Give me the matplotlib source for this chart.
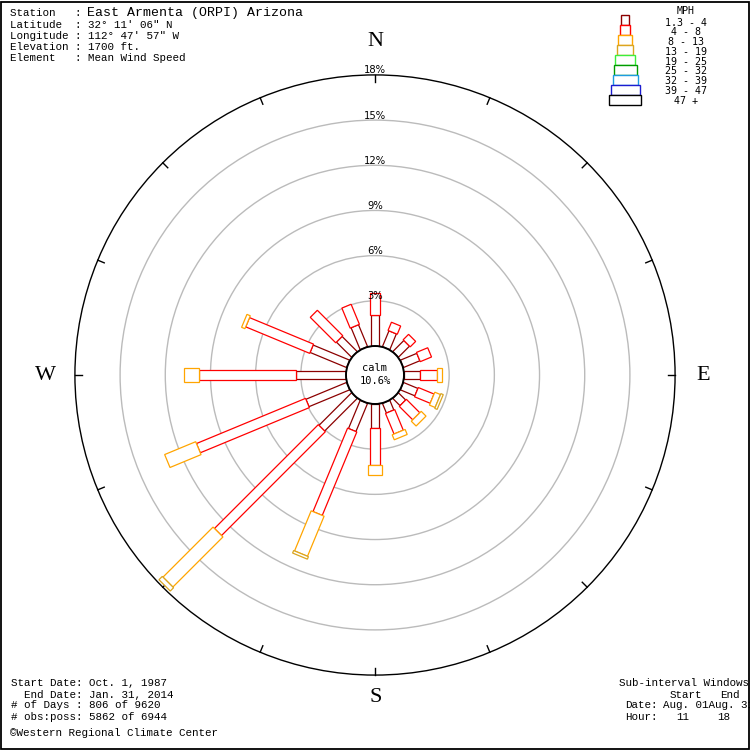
import matplotlib
matplotlib.use("Agg")
import matplotlib.pyplot as plt
from matplotlib.patches import Rectangle, Circle
import numpy as np

# wind directions, compass degrees clockwise from north
directions = ['N', 'NNE', 'NE', 'ENE', 'E', 'ESE', 'SE', 'SSE',
              'S', 'SSW', 'SW', 'WSW', 'W', 'WNW', 'NW', 'NNW']
dir_angles = np.arange(16) * 22.5

# frequency (%) per speed class, one value per direction
freq_1_4 = [2.03, 1.14, 1.05, 1.19, 1.05, 1.05, 0.69, 0.70,
            1.58, 2.03, 3.07, 2.93, 3.31, 2.63, 1.43, 1.58]
freq_4_8 = [1.46, 0.59, 0.51, 0.81, 1.11, 1.13, 1.26, 1.48,
            2.50, 6.00, 9.75, 7.84, 6.46, 4.60, 2.39, 1.44]
freq_8_13 = [0, 0, 0, 0, 0.38, 0.41, 0.45, 0.36,
             0.62, 2.88, 4.70, 2.23, 1.00, 0.24, 0, 0]
freq_13_19 = [0, 0, 0, 0, 0, 0.17, 0, 0,
              0, 0.18, 0.31, 0, 0, 0, 0, 0]
freqs = [freq_1_4, freq_4_8, freq_8_13, freq_13_19]

calm_pct = 10.6
rings = [3, 6, 9, 12, 15, 18]

speed_lo = ['1.3', '4', '8', '13', '19', '25', '32', '39', '47']
speed_hi = ['4', '8', '13', '19', '25', '32', '39', '47', '+']
speed_colors = ['#8b0000', '#ff0000', '#ffa500', '#daa520', '#3cee3c',
                '#009a00', '#1e9be0', '#1c1cd0', '#000000']
bar_w_px = [8, 10, 14, 16, 20, 23, 25, 29, 32]

PX = 15.06        # pixels per percent
R0 = 29 / PX      # calm circle radius in % units

fig = plt.figure(figsize=(7.5, 7.5), dpi=100)
ax = fig.add_axes([0, 0, 1, 1])
ax.set_xlim(-375 / PX, 375 / PX)
ax.set_ylim(-375 / PX, 375 / PX)
ax.set_aspect('equal')
ax.axis('off')


def dx(x):
    return (x - 375) / PX


def dy(y):
    return (375 - y) / PX


# frame
fig.patches.append(Rectangle((0.001, 0.001), 0.997, 0.997, transform=fig.transFigure,
                             fill=False, ec='black', lw=1.3))

# rings
for r in rings:
    col = 'black' if r == rings[-1] else '#bbbbbb'
    ax.add_patch(Circle((0, 0), R0 + r, fill=False, ec=col, lw=1.0, zorder=1))
    ax.text(0, R0 + r + 1.5 / PX, f'{r}%', ha='center', va='baseline',
            fontsize=7.2, family='DejaVu Sans', zorder=6)

# ticks on the outer circle
rout = R0 + rings[-1]
for a in dir_angles:
    s, c = np.sin(np.radians(a)), np.cos(np.radians(a))
    ax.plot([(rout - 7 / PX) * s, rout * s], [(rout - 7 / PX) * c, rout * c],
            color='black', lw=1.0, zorder=2)

# petals
for j, a in enumerate(dir_angles):
    start = R0
    for i, f in enumerate(freqs):
        if freqs[i][j] <= 0:
            continue
        w = bar_w_px[i] / PX
        ax.add_patch(Rectangle((start, -w / 2), freqs[i][j], w, angle=90 - a,
                               rotation_point=(0, 0), fc='white',
                               ec=speed_colors[i], lw=0.9, zorder=3 + i * 0.01))
        start += freqs[i][j]

# calm circle
ax.add_patch(Circle((0, 0), R0, fc='white', ec='black', lw=1.4, zorder=5))
ax.text(0, 7 / PX, 'calm', ha='center', va='center', fontsize=7.5,
        family='DejaVu Sans Mono', zorder=6)
ax.text(0, -6 / PX, f'{calm_pct}%', ha='center', va='center', fontsize=7.5,
        family='DejaVu Sans Mono', zorder=6)

# compass letters
for lab, x, y in [('N', 375, 42), ('W', 45, 375), ('E', 703, 375), ('S', 376, 698)]:
    ax.text(dx(x), dy(y), lab, ha='center', va='center', fontsize=16,
            family='Liberation Serif')

# legend
ax.text(dx(686), dy(11.5), 'MPH', ha='center', va='center', fontsize=7.2,
        family='DejaVu Sans Mono')
for i in range(len(speed_lo)):
    w = bar_w_px[i]
    ax.add_patch(Rectangle((dx(625 - w / 2), dy(25 + 10 * i)), w / PX, 10 / PX,
                           fc='white', ec=speed_colors[i], lw=1.0))
    if speed_hi[i] == '+':
        lab = f'{speed_lo[i]} +'
    else:
        lab = f'{speed_lo[i]} - {speed_hi[i]}'
    ax.text(dx(686), dy(22.5 + 9.8 * i), lab, ha='center', va='center',
            fontsize=7.2, family='DejaVu Sans Mono')


def ftxt(x, y, s, size=7.8, **kw):
    fig.text(x / 750, 1 - y / 750, s, va='center', family='Liberation Mono',
             fontsize=size, **kw)


# station info
ftxt(10, 13.5, 'Station   :')
ftxt(87, 13, 'East Armenta (ORPI) Arizona', size=9.5)
ftxt(10, 25, "Latitude  : 32° 11' 06\" N")
ftxt(10, 36, "Longitude : 112° 47' 57\" W")
ftxt(10, 47, 'Elevation : 1700 ft.')
ftxt(10, 58, 'Element   : Mean Wind Speed')

ftxt(11, 683.5, 'Start Date: Oct. 1, 1987')
ftxt(11, 694.5, '  End Date: Jan. 31, 2014')
ftxt(11, 705.5, '# of Days : 806 of 9620')
ftxt(11, 716.5, '# obs:poss: 5862 of 6944')
ftxt(10, 732.5, '©Western Regional Climate Center')

ftxt(619, 683.5, 'Sub-interval Windows')
ftxt(670, 694.5, 'Start')
ftxt(720, 694.5, 'End')
ftxt(625, 705.5, 'Date:')
ftxt(663, 705.5, 'Aug. 01Aug. 31')
ftxt(625, 716.5, 'Hour:')
ftxt(676, 716.5, '11')
ftxt(717, 716.5, '18')

fig.savefig('out.png', dpi=100)
